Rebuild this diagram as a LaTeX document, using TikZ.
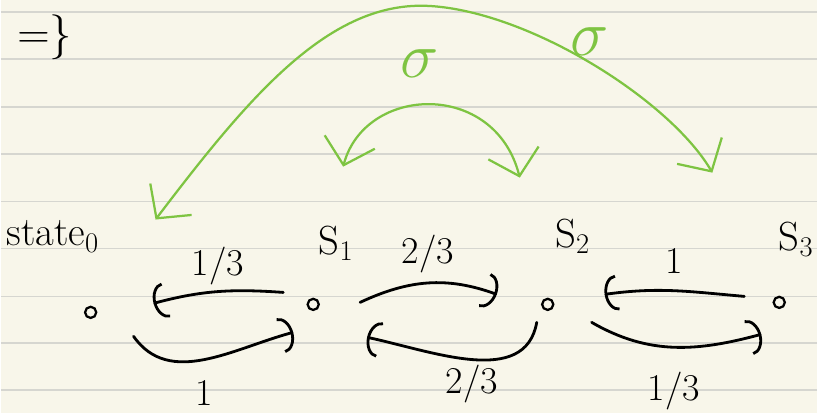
\RequirePackage{fix-cm}
\documentclass[tikz,border=0pt]{standalone}
\usepackage{xcolor}
\usepackage{tikz}
\usetikzlibrary{positioning,arrows.meta}

\definecolor{paper}{RGB}{248,246,234}
\definecolor{ruled}{RGB}{214,214,208}
\definecolor{sigmagreen}{RGB}{126,196,66}

\begin{document}
\begin{tikzpicture}[x=0.025cm, y=-0.025cm,
    statedot/.style={circle, draw=black, line width=1.6pt, inner sep=0pt, minimum size=2.8mm},
    trans/.style={-{Arc Barb[length=3.2mm, width=9mm]}, line width=2pt, line cap=round},
    sigarc/.style={{Straight Barb[length=6mm, width=13mm]}-{Straight Barb[length=6mm, width=13mm]},
                   draw=sigmagreen, line width=1.6pt, line cap=round},
    prob/.style={font=\fontsize{27}{30}\selectfont, inner sep=1pt},
    statename/.style={font=\fontsize{29}{32}\selectfont, inner sep=1pt},
    siglab/.style={font=\fontsize{46}{50}\selectfont, text=sigmagreen, inner sep=1pt},
    ruling/.style={draw=ruled, line width=1.2pt}
]

% --- ruled paper ---
\fill[paper] (0,0) rectangle (818,414);
\foreach \y in {12,59,107,154,202,249,297,344,391}
    \draw[ruling] (0,\y) -- (818,\y);
\useasboundingbox (0,0) rectangle (818,414);

% --- leftover of the line above ---
\node[font=\fontsize{32}{36}\selectfont, inner sep=0pt] (setend) at (44,37) {$=\}$};

% --- states ---
\node[statedot] (s0) at (90,313) {};
\node[statedot] (s1) at (313,305) {};
\node[statedot] (s2) at (548,305) {};
\node[statedot] (s3) at (780,303) {};

\node[statename] (lab0) at (52,237)  {state$_0$};
\node[statename] (lab1) at (336,244) {S$_1$};
\node[statename] (lab2) at (573,237) {S$_2$};
\node[statename] (lab3) at (797,240) {S$_3$};

% --- transitions ---
\draw[trans] ([shift={(-30,-12)}]s1.center) to[out=176,in=15]
    node[prob, above=3pt] {1/3} ([shift={(63,-9)}]s0.center);
\draw[trans] ([shift={(43,24)}]s0.center) to[out=-55,in=195]
    node[prob, below=13pt] {1} ([shift={(-20,28)}]s1.center);
\draw[trans] ([shift={(47,-2)}]s1.center) to[out=25,in=160]
    node[prob, above=5pt] {2/3} ([shift={(-51,-10)}]s2.center);
\draw[trans] ([shift={(-11,18)}]s2.center) to[out=-100,in=-12]
    node[prob, below=2pt] {2/3} ([shift={(54,33)}]s1.center);
\draw[trans] ([shift={(-35,-6)}]s3.center) to[out=175,in=8]
    node[prob, above=10pt] {1} ([shift={(57,-10)}]s2.center);
\draw[trans] ([shift={(44,18)}]s2.center) to[out=-30,in=195]
    node[prob, below=16pt] {1/3} ([shift={(-18,32)}]s3.center);

% --- sigma swaps ---
\draw[sigarc] ([shift={(103,-17)}]lab0.center) .. controls (250,95) and (330,0) .. (430,6)
    .. controls (530,12) and (670,100) .. ([shift={(-84,-67)}]lab3.center);
\draw[sigarc] ([shift={(7,-77)}]lab1.center) .. controls (365,85) and (495,80)
    .. ([shift={(-53,-59)}]lab2.center);

\node[siglab] (sigin)  at (420,64) {$\sigma$};
\node[siglab] (sigout) at (590,42) {$\sigma$};

\end{tikzpicture}
\end{document}
